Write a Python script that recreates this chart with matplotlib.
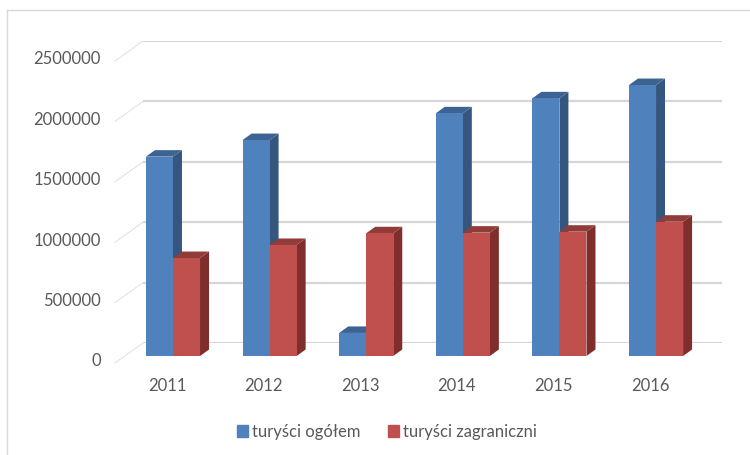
import numpy as np
import matplotlib
matplotlib.use('Agg')
import matplotlib.pyplot as plt
from matplotlib.patches import Patch
from matplotlib.lines import Line2D

# data
years = ['2011', '2012', '2013', '2014', '2015', '2016']
total = [1634000, 1770000, 189000, 1989000, 2112000, 2221000]
foreign = [803000, 910000, 1006000, 1011000, 1019000, 1101000]
series_names = ['turyści ogółem', 'turyści zagraniczni']
y_ticks = [0, 500000, 1000000, 1500000, 2000000, 2500000]

W, H = 750, 455
TEXT = '#595959'
GRID = '#d6d6d6'
BLUE = ('#4F81BD', '#34567f', '#3d6394')   # front, side, top
RED = ('#C0504D', '#7f2e2c', '#923c3a')

plt.rcParams['font.family'] = ['Lato', 'DejaVu Sans']
fig = plt.figure(figsize=(7.5, 4.55), dpi=100)


def px_box(x0, y0, x1, y1):
    # pixel box (origin top-left) -> figure rect
    return [x0 / W, 1 - y1 / H, (x1 - x0) / W, (y1 - y0) / H]


# back wall: gridlines + slanted marks on the left wall + value labels
wall = fig.add_axes(px_box(143, 41, 722, 343))
wall.set_xlim(0, 1)
wall.set_ylim(0, 2500000)
wall.axis('off')
for v in y_ticks:
    wall.axhline(v, color=GRID, lw=1.6, zorder=0)
    wall.annotate('', xy=(0, v), xycoords=('axes fraction', 'data'),
                  xytext=(-28, -20), textcoords='offset pixels',
                  arrowprops=dict(arrowstyle='-', color='#e0e0e0', lw=0.9,
                                  linestyle=(0, (1, 1)), shrinkA=0, shrinkB=0))
    wall.annotate(str(v), xy=(0, v), xycoords=('axes fraction', 'data'),
                  xytext=(-42, -18.5), textcoords='offset pixels',
                  ha='right', va='center', fontsize=12, color=TEXT)

# bars plane
ax = fig.add_axes(px_box(118, 51, 697, 356))
ax.patch.set_alpha(0)
xlim = (-0.569, 5.424)
ax.set_xlim(*xlim)
ax.set_ylim(0, 2500000)
for s in ax.spines.values():
    s.set_visible(False)
ax.set_yticks([])

x = np.arange(len(years))
bw = 0.28
# depth of the 3d blocks, 9 px right and 6.5 px up
ddx = 9 / 579 * (xlim[1] - xlim[0])
ddy = 6.5 / 305 * 2500000


def block(left, h, cols, z):
    front, side, top = cols
    right = left + bw
    ax.fill([right, right + ddx, right + ddx, right],
            [0, ddy, h + ddy, h], color=side, lw=0, zorder=z)
    ax.fill([left, right, right + ddx, left + ddx],
            [h, h, h + ddy, h + ddy], color=top, lw=0, zorder=z)


for xi, h in zip(x, total):
    block(xi - bw, h, BLUE, 2)
ax.bar(x - bw, total, width=bw, align='edge', color=BLUE[0], zorder=3)
for xi, h in zip(x, foreign):
    block(xi, h, RED, 4)
ax.bar(x, foreign, width=bw, align='edge', color=RED[0], zorder=5)

ax.set_xticks(x - 6 / 96.6)
ax.set_xticklabels(years)
ax.tick_params(axis='x', length=0, pad=15.5, labelsize=12, labelcolor=TEXT)

fig.legend(handles=[Patch(color=BLUE[0]), Patch(color=RED[0])],
           labels=series_names, loc='center',
           bbox_to_anchor=(387 / W, 1 - 432 / H), ncol=2, frameon=False,
           fontsize=12, labelcolor=TEXT, handlelength=0.7, handleheight=0.7,
           handletextpad=0.25, columnspacing=1.6)

# chart frame (top and left edges visible)
fig.add_artist(Line2D([7 / W, 7 / W], [0, 1 - 10 / H], transform=fig.transFigure,
                      color='#d9d9d9', lw=1))
fig.add_artist(Line2D([7 / W, 1], [1 - 10 / H, 1 - 10 / H], transform=fig.transFigure,
                      color='#d9d9d9', lw=1))

fig.savefig('out.png', dpi=100)
